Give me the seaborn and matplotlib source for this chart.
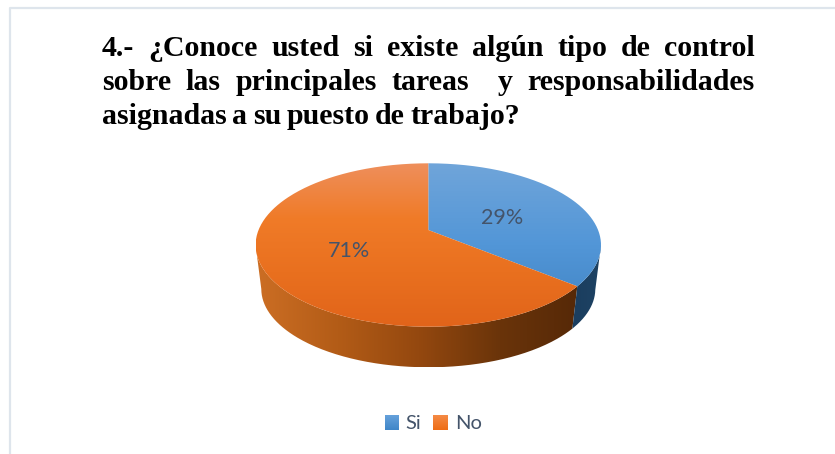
import matplotlib
matplotlib.use('Agg')
import matplotlib.pyplot as plt
from matplotlib.patches import PathPatch, Patch
from matplotlib.path import Path
import seaborn as sns
import numpy as np

# Data
categories = ['Si', 'No']
value_labels = ['29%', '71%']
# share of the drawn top face, the 3D view stretches the slices
drawn_shares = [30.75, 69.25]
title_lines = [
    '4.- ¿Conoce usted si existe algún tipo de control',
    'sobre las principales tareas  y responsabilidades',
    'asignadas a su puesto de trabajo?',
]

W, H = 835, 454
TEXT_COLOR = '#44546A'

sns.set_theme(style='white')
plt.rcParams['font.family'] = ['Lato', 'DejaVu Sans']

fig = plt.figure(figsize=(W / 100, H / 100), dpi=100)
ax = fig.add_axes([0, 0, 1, 1])

# Pie geometry in pixels, y measured upwards
apex = (428.3, H - 230)
top_c, top_rx, top_ry = (428.3, H - 245), 172.7, 81.7
low_c, low_rx, low_ry = (428.3, H - 289), 167.0, 78.3

wedges, _ = ax.pie(drawn_shares, center=apex, radius=100, startangle=90,
                   counterclock=False, frame=False)
for w in wedges:
    w.set_visible(False)


def rim_point(theta):
    # where the ray from the apex meets the top ellipse
    dx, dy = np.cos(np.radians(theta)), np.sin(np.radians(theta))
    ox, oy = apex[0] - top_c[0], apex[1] - top_c[1]
    a = (dx / top_rx) ** 2 + (dy / top_ry) ** 2
    b = 2 * (ox * dx / top_rx ** 2 + oy * dy / top_ry ** 2)
    c = (ox / top_rx) ** 2 + (oy / top_ry) ** 2 - 1
    s = (-b + np.sqrt(b * b - 4 * a * c)) / (2 * a)
    return apex[0] + s * dx, apex[1] + s * dy


def fill_gradient(points, colors, extent, horizontal=False, zorder=2):
    patch = PathPatch(Path(np.vstack([points, points[:1]])), fc='none', ec='none')
    ax.add_patch(patch)
    ramp = np.linspace(0, 1, 256)
    ramp = ramp.reshape(1, -1) if horizontal else ramp.reshape(-1, 1)
    cmap = sns.blend_palette(colors, as_cmap=True)
    im = ax.imshow(ramp, cmap=cmap, extent=extent, aspect='auto', origin='upper',
                   interpolation='bilinear', zorder=zorder)
    im.set_clip_path(patch)


def side_points(t1, t2):
    t = np.radians(np.linspace(t1, t2, 200))
    up = np.c_[top_c[0] + top_rx * np.cos(t), top_c[1] + top_ry * np.sin(t)]
    low = np.c_[low_c[0] + low_rx * np.cos(t), low_c[1] + low_ry * np.sin(t)]
    return np.vstack([up, low[::-1]])


# Side walls
sx, sy = rim_point(wedges[0].theta1)
seam = np.degrees(np.arctan2((sy - top_c[1]) / top_ry, (sx - top_c[0]) / top_rx))
x_left, x_right = top_c[0] - top_rx, top_c[0] + top_rx
y_low = low_c[1] - low_ry
fill_gradient(side_points(180, 360 + seam),
              ['#CC6E24', '#B35C17', '#94480F', '#6A340A', '#552807'],
              (x_left, x_right - 20, y_low, top_c[1]), horizontal=True)
fill_gradient(side_points(seam, 0), ['#1B3D5E', '#1D4263'],
              (sx - 10, x_right, y_low, top_c[1]), horizontal=True)

# Top face, one gradient per slice
face_colors = [['#70A5DA', '#5296D7', '#3F82C2'],
               ['#EE8F5C', '#F07B28', '#E9701F', '#E1641A']]
y_top, y_bot = top_c[1] + top_ry, top_c[1] - top_ry
for w, colors in zip(wedges, face_colors):
    rim = [rim_point(t) for t in np.linspace(w.theta1, w.theta2, 400)]
    fill_gradient(np.vstack([[apex], rim]), colors, (x_left, x_right, y_bot, y_top))

# Value labels
ax.text(502, H - 218, value_labels[0], color=TEXT_COLOR, fontsize=15.5,
        ha='center', va='center', zorder=3)
ax.text(349, H - 251, value_labels[1], color=TEXT_COLOR, fontsize=15.5,
        ha='center', va='center', zorder=3)

# Frame of the chart, left and top only
ax.plot([10, 10, W], [0, H - 8, H - 8], color='#DEE5EC', lw=1.6, zorder=1)

ax.set_xlim(0, W)
ax.set_ylim(0, H)
ax.axis('off')

# Justified title, placed word by word
renderer = fig.canvas.get_renderer()
title_font = dict(family='Liberation Serif', fontweight='bold', fontsize=21.5, color='black')
for i, line in enumerate(title_lines):
    words = line.split()
    baseline = H - (56.5 + 34 * i)
    texts = [ax.text(0, baseline, word, va='baseline', **title_font) for word in words]
    widths = [t.get_window_extent(renderer).width for t in texts]
    gaps = line.count(' ')
    space = (755 - 102 - sum(widths)) / gaps if i < 2 else 5.5
    x = 102
    for t, word, width in zip(texts, words, widths):
        t.set_x(x)
        x += width + space * (2 if word == 'tareas' else 1)

# Legend
handles = [Patch(fc='#4E93D3', ec='none'), Patch(fc='#F27D2C', ec='none')]
leg = ax.legend(handles, categories, loc='center', bbox_to_anchor=(433 / W, 1 - 423.5 / H),
                ncol=2, frameon=False, fontsize=14.5, labelcolor=TEXT_COLOR, handlelength=0.7,
                handleheight=0.75, handletextpad=0.35, columnspacing=0.6)

# gradient on the legend keys, same size as the keys the legend laid out
fig.canvas.draw()
key_colors = [['#66A1DB', '#3F86C8'], ['#F58B45', '#EE6C15']]
for key, colors in zip(leg.legend_handles, key_colors):
    box = key.get_window_extent(renderer)
    corners = [(box.x0, box.y0), (box.x1, box.y0), (box.x1, box.y1), (box.x0, box.y1)]
    fill_gradient(np.array(corners), colors, (box.x0, box.x1, box.y0, box.y1), zorder=6)

ax.set_xlim(0, W)
ax.set_ylim(0, H)
fig.savefig('out.png', dpi=100)
